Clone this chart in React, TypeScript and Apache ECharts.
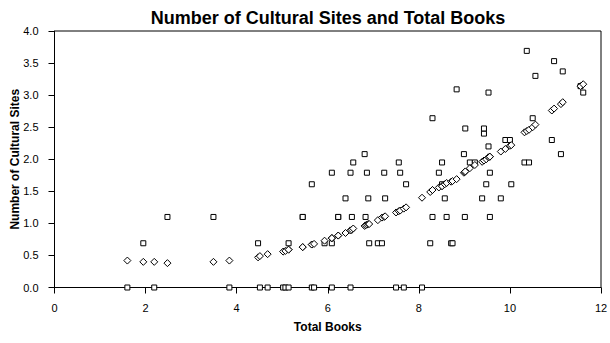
import React, { useEffect, useRef } from "react";
import * as echarts from "echarts";

// Total books per observation (x), observed cultural sites and the fitted curve value
const totalBooks = [
  1.6, 1.95, 2.19, 2.48, 3.49, 3.84, 4.47, 4.51, 4.68, 5.02, 5.07, 5.14, 5.14, 5.45, 5.45,
  5.65, 5.65, 5.7, 5.93, 6.09, 6.09, 6.09, 6.23, 6.23, 6.39, 6.5, 6.5, 6.53, 6.56, 6.81,
  6.83, 6.86, 6.89, 6.91, 7.1, 7.19, 7.24, 7.26, 7.5, 7.56, 7.59, 7.67, 7.72, 8.07, 8.25,
  8.3, 8.3, 8.44, 8.51, 8.51, 8.57, 8.61, 8.71, 8.74, 8.83, 8.99, 9.01, 9.02, 9.12, 9.23,
  9.39, 9.43, 9.43, 9.48, 9.53, 9.53, 9.56, 9.56, 9.8, 9.9, 10.0, 10.03, 10.32, 10.37, 10.42,
  10.5, 10.56, 10.92, 10.97, 11.12, 11.16, 11.55, 11.61,
];

const culturalSites = [
  0, 0.69, 0, 1.1, 1.1, 0, 0.69, 0, 0, 0, 0, 0, 0.69, 1.1, 1.1,
  0, 1.61, 0, 0.69, 0, 0.69, 1.79, 1.1, 1.1, 1.39, 0, 1.79, 1.1, 1.95, 2.08,
  1.1, 1.79, 1.39, 0.69, 0.69, 0.69, 1.79, 1.39, 0, 1.95, 1.79, 0, 1.61, 0, 0.69,
  1.1, 2.64, 1.79, 1.61, 1.95, 1.39, 1.1, 0.69, 0.69, 3.09, 2.08, 1.1, 2.48, 1.95, 1.95,
  1.39, 2.4, 2.48, 1.61, 2.2, 3.04, 1.1, 1.79, 1.39, 2.3, 2.3, 1.61, 1.95, 3.69, 1.95,
  2.64, 3.3, 2.3, 3.53, 2.08, 3.37, 3.14, 3.04,
];

const fittedSites = [
  0.42, 0.4, 0.4, 0.38, 0.4, 0.42, 0.47, 0.49, 0.52, 0.56, 0.57, 0.59, 0.59, 0.63, 0.63,
  0.67, 0.67, 0.68, 0.73, 0.77, 0.77, 0.77, 0.81, 0.81, 0.85, 0.89, 0.89, 0.9, 0.92, 0.96,
  0.97, 0.98, 0.99, 0.99, 1.05, 1.09, 1.1, 1.11, 1.17, 1.19, 1.2, 1.23, 1.25, 1.4, 1.49,
  1.52, 1.52, 1.56, 1.58, 1.58, 1.61, 1.63, 1.65, 1.66, 1.69, 1.79, 1.8, 1.81, 1.86, 1.91,
  1.96, 1.98, 1.98, 2.0, 2.03, 2.03, 2.04, 2.04, 2.12, 2.16, 2.21, 2.22, 2.42, 2.44, 2.46,
  2.5, 2.54, 2.76, 2.79, 2.86, 2.89, 3.14, 3.17,
];

const FONT = "'Liberation Sans', Arial, sans-serif";

export default function App() {
  const ref = useRef<HTMLDivElement>(null);

  useEffect(() => {
    if (!ref.current) return;
    const chart = echarts.init(ref.current, undefined, { renderer: "svg" });

    const observed = totalBooks.map((x, i) => [x, culturalSites[i]]);
    const fitted = totalBooks.map((x, i) => [x, fittedSites[i]]);

    chart.setOption({
      animation: false,
      backgroundColor: "#fff",
      textStyle: { fontFamily: FONT, color: "#000" },
      title: {
        text: "Number of Cultural Sites and Total Books",
        left: 323,
        textAlign: "center",
        top: 4,
        textStyle: { fontFamily: FONT, fontSize: 18, fontWeight: "bold", color: "#000" },
      },
      grid: {
        left: 54.5,
        right: 9,
        top: 31,
        bottom: 55.5,
        containLabel: false,
        outerBoundsMode: "none",
        show: true,
        borderColor: "#000",
        borderWidth: 1,
        backgroundColor: "#fff",
      },
      xAxis: {
        type: "value",
        min: 0,
        max: 12,
        interval: 2,
        name: "Total Books",
        nameLocation: "middle",
        nameGap: 33,
        nameMoveOverlap: false,
        nameTextStyle: { fontFamily: FONT, fontSize: 12, fontWeight: "bold", color: "#000" },
        axisLine: { show: true, onZero: false, lineStyle: { color: "#000", width: 1 } },
        axisTick: { show: true, inside: false, length: 6, lineStyle: { color: "#000" } },
        axisLabel: { margin: 15, fontSize: 11, color: "#000", fontFamily: FONT },
        splitLine: { show: false },
      },
      yAxis: {
        type: "value",
        min: 0,
        max: 4,
        interval: 0.5,
        name: "Number of Cultural Sites",
        nameLocation: "middle",
        nameRotate: 90,
        nameGap: 34,
        nameMoveOverlap: false,
        nameTextStyle: { fontFamily: FONT, fontSize: 12, fontWeight: "bold", color: "#000" },
        axisLine: { show: true, onZero: false, lineStyle: { color: "#000", width: 1 } },
        axisTick: { show: true, inside: false, length: 6, lineStyle: { color: "#000" } },
        axisLabel: {
          margin: 16,
          fontSize: 11,
          color: "#000",
          fontFamily: FONT,
          formatter: (v: number) => v.toFixed(1),
        },
        splitLine: { show: false },
      },
      series: [
        {
          name: "Observed",
          type: "scatter",
          data: observed,
          symbol: "rect",
          symbolSize: 5,
          itemStyle: { color: "#fff", borderColor: "#000", borderWidth: 1, opacity: 1 },
        },
        {
          name: "Fitted",
          type: "scatter",
          data: fitted,
          symbol: "diamond",
          symbolSize: 7,
          itemStyle: { color: "#fff", borderColor: "#000", borderWidth: 1, opacity: 1 },
        },
      ],
    });

    return () => chart.dispose();
  }, []);

  return (
    <div
      ref={ref}
      style={{ position: "fixed", left: 0, top: 0, width: 610, height: 343 }}
    />
  );
}
